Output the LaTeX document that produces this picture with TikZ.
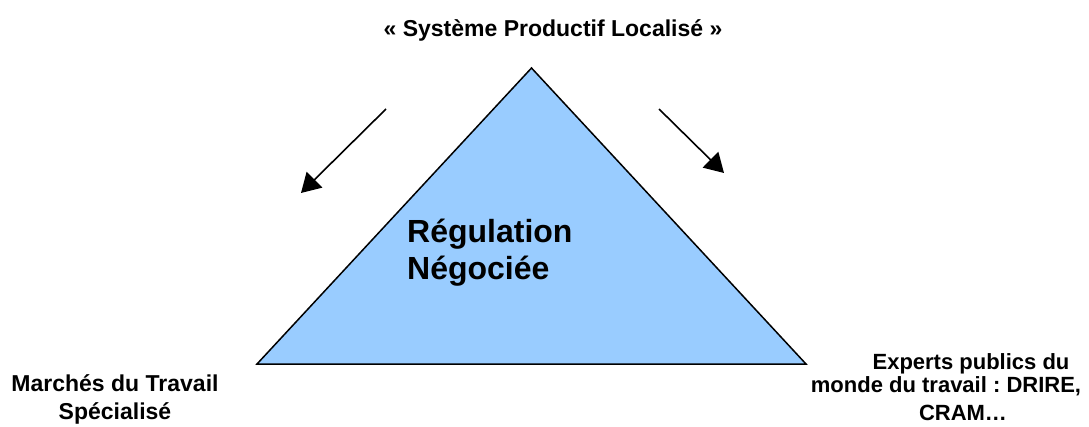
\documentclass[tikz,border=0pt]{standalone}
\usepackage{fontspec}
\setmainfont{Liberation Sans}
\frenchspacing
\usetikzlibrary{arrows.meta,positioning}

\begin{document}
\begin{tikzpicture}[x=1pt,y=-1pt,>={Triangle[length=19pt,width=22pt]},
    label/.style={font=\bfseries\fontsize{22}{28}\selectfont,align=center,inner sep=0pt,anchor=base},
    side/.style={line width=1.5pt},
    flow/.style={->,line width=1.6pt}]

                \useasboundingbox (0,0) rectangle (1089,426);

                % the triangle
                \coordinate (top) at (531.5,68);
                \coordinate (left) at (257,364);
                \coordinate (right) at (806,364);
                \filldraw[side,fill={rgb,255:red,153;green,204;blue,255},line join=miter] (top) -- (left) -- (right) -- cycle;

                \node[label,font=\bfseries\fontsize{32}{37}\selectfont,align=left,anchor=base west] (reg) at (407,279) {Régulation\\Négociée};

                \node[label,font=\bfseries\fontsize{23}{28}\selectfont] (spl) at (553,36) {« Système Productif Localisé »};
                \node[label,font=\bfseries\fontsize{23}{28}\selectfont] (mts) at (115,419) {Marchés du Travail\\Spécialisé};
                \node[label] (exp) at (946,420) {\hspace*{50pt}Experts publics du\\[-5pt]monde du travail : DRIRE,\\\hspace*{34pt}CRAM…};

                % arrows
                \coordinate (a1) at (386,109);
                \coordinate (b1) at (301,193);
                \coordinate (a2) at (659,109);
                \coordinate (b2) at (724,173);
                \draw[flow] (a1) -- (b1);
                \draw[flow] (a2) -- (b2);

            \end{tikzpicture}
\end{document}
